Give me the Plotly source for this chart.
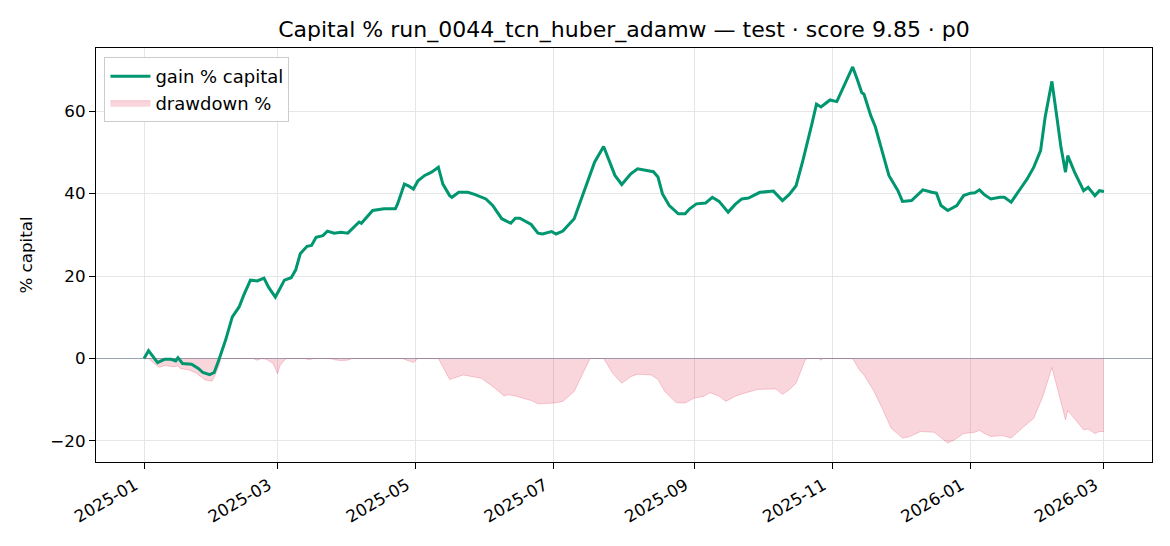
import plotly.graph_objects as go

# --- gain % capital ---
gain_dates = [
    "2025-01-01", "2025-01-03", "2025-01-04", "2025-01-07", "2025-01-10", "2025-01-13", "2025-01-15",
    "2025-01-16", "2025-01-18", "2025-01-22", "2025-01-25", "2025-01-27", "2025-01-30", "2025-02-01",
    "2025-02-03", "2025-02-06", "2025-02-09", "2025-02-12", "2025-02-14", "2025-02-17", "2025-02-20",
    "2025-02-23", "2025-02-25", "2025-02-28", "2025-03-02", "2025-03-04", "2025-03-07", "2025-03-09",
    "2025-03-11", "2025-03-14", "2025-03-16", "2025-03-18", "2025-03-21", "2025-03-23", "2025-03-26",
    "2025-03-29", "2025-04-01", "2025-04-04", "2025-04-06", "2025-04-07", "2025-04-12", "2025-04-17",
    "2025-04-22", "2025-04-23", "2025-04-26", "2025-04-28", "2025-04-30", "2025-05-02", "2025-05-05",
    "2025-05-08", "2025-05-11", "2025-05-13", "2025-05-16", "2025-05-17", "2025-05-20", "2025-05-24",
    "2025-05-27", "2025-06-01", "2025-06-04", "2025-06-08", "2025-06-12", "2025-06-14", "2025-06-16",
    "2025-06-21", "2025-06-24", "2025-06-26", "2025-06-30", "2025-07-02", "2025-07-05", "2025-07-10",
    "2025-07-15", "2025-07-19", "2025-07-23", "2025-07-25", "2025-07-28", "2025-07-31", "2025-08-04",
    "2025-08-07", "2025-08-11", "2025-08-14", "2025-08-16", "2025-08-18", "2025-08-21", "2025-08-25",
    "2025-08-28", "2025-08-30", "2025-09-02", "2025-09-06", "2025-09-09", "2025-09-12", "2025-09-16",
    "2025-09-19", "2025-09-22", "2025-09-25", "2025-09-30", "2025-10-06", "2025-10-10", "2025-10-13",
    "2025-10-16", "2025-10-19", "2025-10-23", "2025-10-25", "2025-10-27", "2025-10-31", "2025-11-03",
    "2025-11-07", "2025-11-10", "2025-11-12", "2025-11-14", "2025-11-15", "2025-11-18", "2025-11-20",
    "2025-11-23", "2025-11-26", "2025-11-30", "2025-12-02", "2025-12-06", "2025-12-11", "2025-12-15",
    "2025-12-17", "2025-12-19", "2025-12-22", "2025-12-26", "2025-12-29", "2026-01-01", "2026-01-03",
    "2026-01-05", "2026-01-07", "2026-01-10", "2026-01-14", "2026-01-16", "2026-01-19", "2026-01-23",
    "2026-01-26", "2026-01-29", "2026-02-01", "2026-02-03", "2026-02-06", "2026-02-08", "2026-02-10",
    "2026-02-12", "2026-02-13", "2026-02-16", "2026-02-19", "2026-02-20", "2026-02-22", "2026-02-25",
    "2026-02-27", "2026-03-01",
]
gain_pct = [
    0.0, 1.9, 1.2, -1.0, -0.2, -0.2, -0.6,
    0.2, -1.2, -1.4, -2.4, -3.4, -3.9, -3.4,
    -0.4, 4.4, 10.1, 12.5, 15.3, 19.0, 18.8,
    19.5, 17.3, 14.9, 16.9, 19.0, 19.6, 21.5,
    25.4, 27.2, 27.4, 29.4, 29.8, 30.9, 30.4,
    30.6, 30.4, 32.0, 33.1, 32.8, 35.9, 36.3,
    36.3, 37.5, 42.3, 41.8, 41.1, 43.1, 44.4,
    45.2, 46.4, 42.3, 39.5, 39.1, 40.3, 40.3,
    39.8, 38.7, 37.1, 33.9, 32.8, 34.0, 34.0,
    32.5, 30.4, 30.2, 30.8, 30.2, 30.9, 33.9,
    41.5, 47.6, 51.4, 48.6, 44.4, 42.2, 44.8,
    46.0, 45.6, 45.3, 44.0, 39.9, 37.1, 35.1,
    35.1, 36.3, 37.5, 37.7, 39.1, 38.1, 35.5,
    37.3, 38.7, 38.9, 40.3, 40.6, 38.3, 39.8,
    41.9, 48.0, 56.9, 61.7, 61.0, 62.7, 62.3,
    67.3, 70.7, 67.7, 64.5, 64.1, 58.9, 56.2,
    50.4, 44.4, 40.7, 38.1, 38.3, 40.9, 40.3,
    40.1, 37.1, 35.9, 37.1, 39.5, 40.1, 40.2,
    40.9, 39.8, 38.7, 39.1, 39.1, 37.9, 41.1,
    43.5, 46.4, 50.4, 58.5, 67.2, 59.3, 51.2,
    45.2, 49.2, 45.2, 41.5, 40.7, 41.5, 39.5,
    40.7, 40.5,
]

# --- drawdown % ---
dd_dates = [
    "2025-01-01", "2025-01-03", "2025-01-04", "2025-01-07", "2025-01-08", "2025-01-10", "2025-01-14",
    "2025-01-16", "2025-01-17", "2025-01-21", "2025-01-24", "2025-01-26", "2025-01-28", "2025-01-31",
    "2025-02-01", "2025-02-03", "2025-02-04", "2025-02-18", "2025-02-20", "2025-02-22", "2025-02-24",
    "2025-02-27", "2025-03-01", "2025-03-02", "2025-03-04", "2025-03-05", "2025-03-13", "2025-03-15",
    "2025-03-17", "2025-03-24", "2025-03-26", "2025-03-29", "2025-04-01", "2025-04-03", "2025-04-25",
    "2025-04-30", "2025-05-02", "2025-05-11", "2025-05-16", "2025-05-22", "2025-05-30", "2025-06-05",
    "2025-06-09", "2025-06-11", "2025-06-14", "2025-06-21", "2025-06-24", "2025-07-01", "2025-07-05",
    "2025-07-10", "2025-07-13", "2025-07-17", "2025-07-23", "2025-07-27", "2025-07-31", "2025-08-04",
    "2025-08-07", "2025-08-13", "2025-08-16", "2025-08-19", "2025-08-24", "2025-08-28", "2025-09-01",
    "2025-09-05", "2025-09-08", "2025-09-12", "2025-09-15", "2025-09-19", "2025-09-22", "2025-09-29",
    "2025-10-07", "2025-10-10", "2025-10-13", "2025-10-16", "2025-10-20", "2025-10-21", "2025-10-26",
    "2025-10-27", "2025-10-28", "2025-11-10", "2025-11-13", "2025-11-15", "2025-11-19", "2025-11-23",
    "2025-11-27", "2025-12-02", "2025-12-05", "2025-12-10", "2025-12-16", "2025-12-19", "2025-12-22",
    "2025-12-25", "2025-12-29", "2026-01-03", "2026-01-05", "2026-01-07", "2026-01-10", "2026-01-15",
    "2026-01-19", "2026-01-23", "2026-01-29", "2026-02-02", "2026-02-06", "2026-02-09", "2026-02-12",
    "2026-02-13", "2026-02-16", "2026-02-20", "2026-02-22", "2026-02-25", "2026-02-27", "2026-03-01",
]
dd_pct = [
    0.0, 0.0, -0.5, -1.9, -2.1, -1.7, -2.0,
    -1.8, -2.4, -2.8, -3.5, -4.4, -5.2, -5.5,
    -4.5, -2.0, 0.0, 0.0, -0.4, 0.0, -0.2,
    -1.2, -3.7, -1.8, -0.4, 0.0, 0.0, -0.3,
    0.0, 0.0, -0.3, -0.5, -0.4, 0.0, 0.0,
    -1.0, 0.0, 0.0, -5.1, -4.0, -4.8, -7.2,
    -9.1, -8.8, -9.1, -10.2, -11.0, -10.8, -10.4,
    -8.0, -4.4, 0.0, 0.0, -3.6, -6.0, -4.4,
    -3.8, -4.0, -5.1, -8.0, -10.7, -10.8, -9.6,
    -9.2, -8.3, -9.1, -10.4, -9.2, -8.6, -7.5,
    -7.4, -8.7, -7.6, -6.0, -0.4, 0.0, 0.0,
    -0.4, 0.0, 0.0, -2.8, -4.0, -7.6, -12.0,
    -16.9, -19.3, -19.0, -17.7, -17.9, -19.3, -20.5,
    -19.7, -18.2, -17.9, -17.4, -18.1, -18.9, -18.7,
    -19.3, -17.3, -14.5, -9.2, -2.2, -8.4, -14.9,
    -12.6, -14.5, -17.3, -17.1, -18.2, -17.7, -17.7,
]

y_ticks = [-20, 0, 20, 40, 60]

GREEN = "#009670"
FONT = "DejaVu Sans"

fig = go.Figure()

# drawdown area first so the gain line sits on top
fig.add_trace(go.Scatter(
    x=dd_dates, y=dd_pct,
    mode="lines",
    fill="tozeroy",
    fillcolor="rgba(220,20,60,0.18)",
    line=dict(color="rgba(220,20,60,0.2)", width=1),
    name="drawdown %",
    legendrank=2,
))

fig.add_trace(go.Scatter(
    x=gain_dates, y=gain_pct,
    mode="lines",
    line=dict(color=GREEN, width=3),
    name="gain % capital",
    legendrank=1,
))

# page body has an 8px margin, so the figure is 8px smaller each way
fig.update_layout(
    width=1162,
    height=538,
    margin=dict(l=88, r=18, t=40, b=84),
    plot_bgcolor="white",
    paper_bgcolor="white",
    font=dict(family=FONT, size=16.7, color="black"),
    title=dict(
        text="Capital % run_0044_tcn_huber_adamw — test · score 9.85 · p0",
        font=dict(family=FONT, size=22, color="black"),
        x=0.5, xref="paper", xanchor="center",
        y=1 - 21 / 538, yref="container", yanchor="middle",
    ),
    legend=dict(
        x=0.008, y=0.978, xanchor="left", yanchor="top",
        bgcolor="white",
        bordercolor="#cccccc",
        borderwidth=1,
        font=dict(family=FONT, size=18),
        itemwidth=40,
    ),
    showlegend=True,
)

fig.update_xaxes(
    type="date",
    range=["2024-12-10 19:00", "2026-03-22 05:00"],
    tick0="2025-01-01",
    dtick="M2",
    tickformat="%Y-%m",
    tickangle=-30,
    ticklabelshift=-9,
    ticks="outside",
    ticklen=6,
    tickwidth=1.3,
    tickcolor="black",
    showline=True,
    linecolor="black",
    linewidth=1.3,
    mirror=True,
    showgrid=True,
    gridcolor="#e6e6e6",
    gridwidth=1,
    zeroline=False,
)

fig.update_yaxes(
    range=[-25.1, 75.3],
    tickvals=y_ticks,
    ticks="outside",
    ticklen=6,
    tickwidth=1.3,
    tickcolor="black",
    showline=True,
    linecolor="black",
    linewidth=1.3,
    mirror=True,
    showgrid=True,
    gridcolor="#e6e6e6",
    gridwidth=1,
    zeroline=True,
    zerolinecolor="#98a4b4",
    zerolinewidth=1.3,
    title=dict(text="% capital", font=dict(family=FONT, size=16.7), standoff=13),
)

fig.write_html("out.html")
